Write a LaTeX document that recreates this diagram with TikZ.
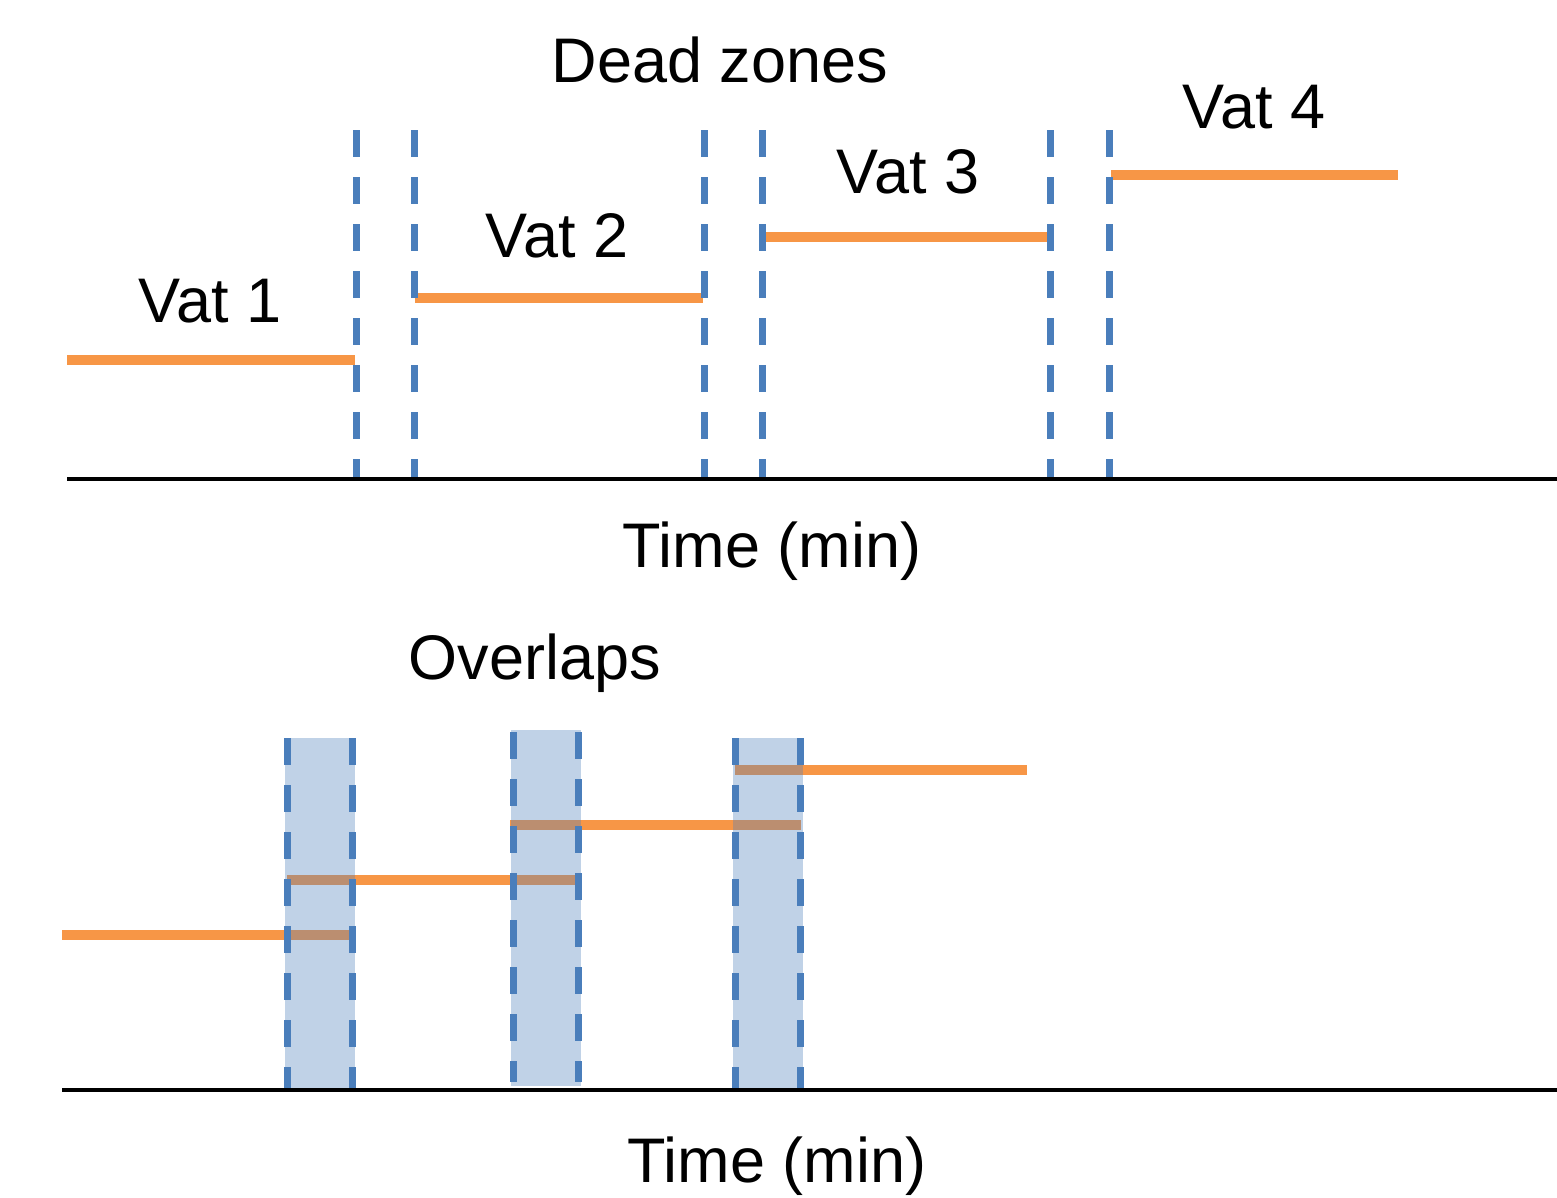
\documentclass[tikz,border=0pt]{standalone}
\usepackage{fontspec}
\setmainfont{Liberation Sans}
\definecolor{vatorange}{HTML}{F79646}
\definecolor{zoneblue}{HTML}{4A7EBB}
\definecolor{boxblue}{HTML}{4F81BD}
\tikzset{
  axisline/.style={line width=4.5pt, black},
  vatline/.style={line width=10pt, vatorange},
  zoneline/.style={line width=7pt, zoneblue, dash pattern=on 27pt off 20pt},
  overlapbox/.style={fill=boxblue, fill opacity=0.355, draw=none},
  lbl/.style={anchor=base, inner sep=0pt, font=\fontsize{63}{70}\selectfont}
}
\begin{document}
\begin{tikzpicture}[x=1pt, y=-1pt]
\useasboundingbox (0,0) rectangle (1557,1197);

% ---------- upper panel: dead zones ----------
\node[lbl] (deadtitle) at (720,82) {Dead zones};
\node[lbl] (vat1) at (210,322) {Vat 1};
\node[lbl] (vat2) at (557,257) {Vat 2};
\node[lbl] (vat3) at (908,193) {Vat 3};
\node[lbl] (vat4) at (1254,128) {Vat 4};
\node[lbl] (time1) at (772,567) {Time (min)};

\draw[vatline] (67,360) -- (355,360);
\draw[vatline] (415,298) -- (703,298);
\draw[vatline] (765,237) -- (1048,237);
\draw[vatline] (1111,175) -- (1398,175);

\foreach \x in {356,414,704,762,1050,1109}
  \draw[zoneline] (\x,130) -- (\x,477);

\draw[axisline] (67,479) -- (1557,479);

% ---------- lower panel: overlaps ----------
\node[lbl] (overtitle) at (535,679) {Overlaps};
\node[lbl] (time2) at (777,1182) {Time (min)};

\draw[vatline] (62,935) -- (350,935);
\draw[vatline] (287,880) -- (576,880);
\draw[vatline] (510,825) -- (801,825);
\draw[vatline] (735,770) -- (1027,770);

\fill[overlapbox] (285,738) rectangle (355,1090);
\fill[overlapbox] (511,730) rectangle (581,1086);
\fill[overlapbox] (733,738) rectangle (803,1092);

\foreach \x/\top/\bot in {287/738/1088,352/738/1088,513/732/1082,578/732/1082,735/738/1088,800/738/1088}
  \draw[zoneline] (\x,\top) -- (\x,\bot);

\draw[axisline] (62,1090) -- (1557,1090);
\end{tikzpicture}
\end{document}
